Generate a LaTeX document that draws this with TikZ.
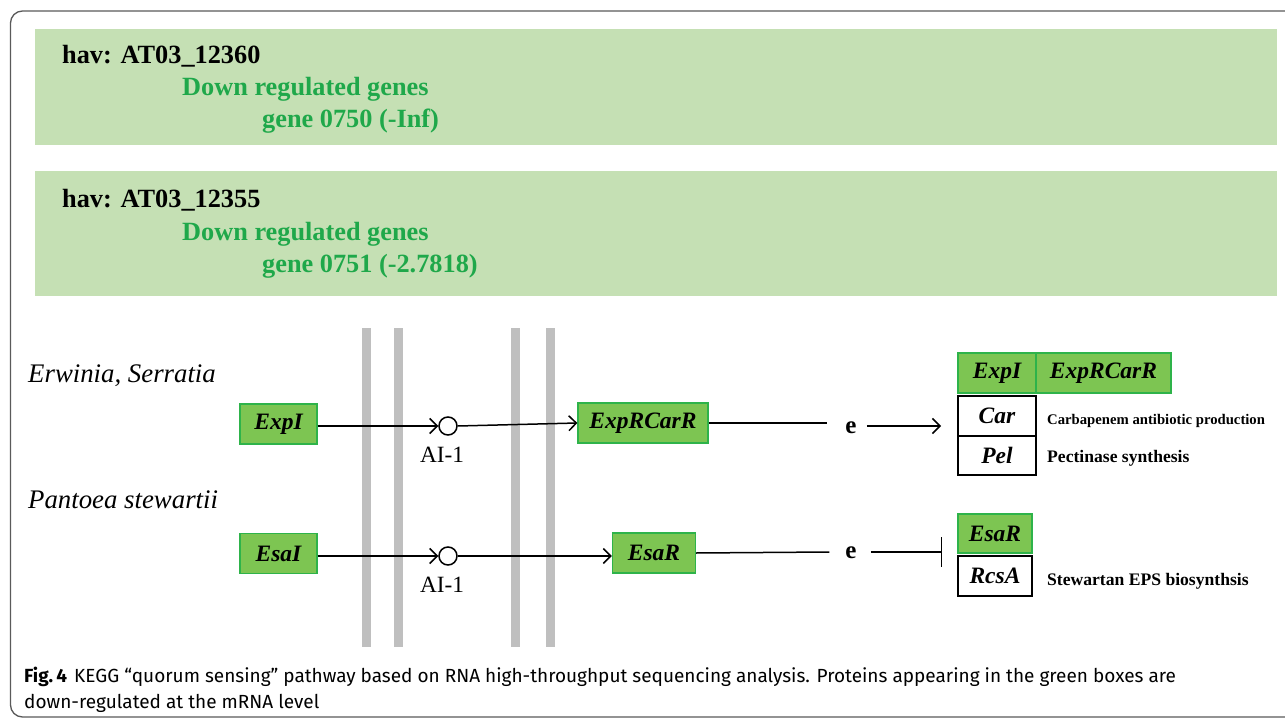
\documentclass[tikz,border=0pt]{standalone}
\usepackage{fontspec}
\setmainfont{Liberation Serif}
\newfontfamily\capfont{Fira Sans}
\usetikzlibrary{arrows.meta}

\definecolor{bannergreen}{HTML}{C5E0B4}
\definecolor{genegreen}{HTML}{1FA84A}
\definecolor{boxfill}{HTML}{7DC552}
\definecolor{boxline}{HTML}{2EB34A}
\definecolor{barcol}{HTML}{BFBFBF}
\definecolor{framecol}{HTML}{5A5A5A}

\tikzset{
  banner/.style={fill=bannergreen, draw=none},
  hav/.style={anchor=base west, inner sep=0pt, font=\fontsize{26.3}{30}\selectfont\bfseries},
  downtxt/.style={anchor=base west, inner sep=0pt, text=genegreen, font=\fontsize{26.3}{30}\selectfont\bfseries},
  species/.style={anchor=west, inner sep=0pt, font=\fontsize{26.8}{30}\selectfont\itshape},
  gbox/.style={draw=boxline, fill=boxfill, line width=1.3pt, inner sep=0pt, minimum height=40pt,
    font=\fontsize{23.5}{26}\selectfont\bfseries\itshape},
  wbox/.style={draw=black, fill=white, line width=1.3pt, inner sep=0pt, minimum height=40pt,
    font=\fontsize{23.5}{26}\selectfont\bfseries\itshape},
  sig/.style={circle, draw=black, line width=1.5pt, fill=white, minimum size=18pt, inner sep=0pt},
  sigtxt/.style={inner sep=0pt, font=\fontsize{23.3}{26}\selectfont},
  etxt/.style={inner sep=0pt, font=\fontsize{25}{28}\selectfont\bfseries},
  note/.style={anchor=west, inner sep=0pt, font=\fontsize{17.6}{20}\selectfont\bfseries},
  captxt/.style={anchor=base west, inner sep=0pt, font=\capfont\fontsize{19}{26}\selectfont},
  wire/.style={line width=1.5pt, draw=black},
  act/.style={wire, -{Straight Barb[length=7.5pt, width=15pt, line width=1.5pt]}},
  inhib/.style={wire, -{Bar[width=30pt, line width=1.5pt]}},
  membrane/.style={fill=barcol, draw=none},
}

\begin{document}
\begin{tikzpicture}[x=1pt, y=-1pt]
\useasboundingbox (0,0) rectangle (1285,719);
\fill[white] (0,0) rectangle (1285,719);

% outer frame
\draw[framecol, line width=1.3pt, rounded corners=12pt] (10.5,717) rectangle (1330,11);

% gene banners
\fill[banner] (35,29) rectangle (1277,145);
\fill[banner] (35,171) rectangle (1277,296);

\node[hav]     (h1) at (62,64)  {hav: AT03\_12360};
\node[downtxt] (d1) at (182,96) {Down regulated genes};
\node[downtxt] (g1) at (262,128) {gene 0750 (-Inf)};

\node[hav]     (h2) at (62,208)  {hav: AT03\_12355};
\node[downtxt] (d2) at (182,241) {Down regulated genes};
\node[downtxt] (g2) at (262,273) {gene 0751 (-2.7818)};

% membranes
\fill[membrane] (361.5,328) rectangle (370.5,647);
\fill[membrane] (393.5,328) rectangle (402.5,647);
\fill[membrane] (511,328) rectangle (520,647);
\fill[membrane] (546,328) rectangle (555,647);

% species
\node[species] (sp1) at (28,376) {Erwinia, Serratia};
\node[species] (sp2) at (28,500) {Pantoea stewartii};

% row 1
\node[gbox, minimum width=77pt] (expi) at (278.5,424) {ExpI};
\node[sig] (ai1) at (448,426) {};
\node[sigtxt] (ai1t) at (442,455) {AI-1};
\node[gbox, minimum width=130pt] (exprcarr) at (643,423) {ExpRCarR};
\node[etxt] (e1) at (851,428) {e};
\coordinate (t1) at (941,426);

\draw[act] (expi.east |- ai1) -- (ai1.west);
\draw[act] (ai1.east) -- (exprcarr.west);
\draw[wire] (exprcarr.east) -- ([xshift=-18pt]e1.west |- exprcarr.east);
\draw[act] ([xshift=10pt]e1.east |- t1) -- (t1);

% row 2
\node[gbox, minimum width=77pt] (esai) at (278.5,553.5) {EsaI};
\node[sig] (ai2) at (448,556) {};
\node[sigtxt] (ai2t) at (442,585) {AI-1};
\node[gbox, minimum width=83pt] (esar) at (654,553) {EsaR};
\node[etxt] (e2) at (851,553) {e};
\coordinate (t2) at (942,552);

\draw[act] (esai.east |- ai2) -- (ai2.west);
\draw[act] (ai2.east) -- (esar.west |- ai2);
\draw[wire] (esar.east) -- ([xshift=-16pt]e2.west |- t2);
\draw[inhib] ([xshift=14pt]e2.east |- t2) -- (t2);

% target genes
\node[gbox, minimum width=78pt] (texpi) at (997,373) {ExpI};
\node[gbox, minimum width=135pt] (texpr) at (1103.5,373) {ExpRCarR};
\node[wbox, minimum width=78pt] (car) at (997,416) {Car};
\node[wbox, minimum width=78pt, minimum height=39pt] (pel) at (997,455.5) {Pel};
\node[note, font=\fontsize{14.7}{17}\selectfont\bfseries] (carn) at (1047,421) {Carbapenem antibiotic production};
\node[note] (peln) at (1047,458) {Pectinase synthesis};

\node[gbox, minimum width=74pt, minimum height=39pt] (tesar) at (995,533.5) {EsaR};
\node[wbox, minimum width=74pt] (rcsa) at (995,576) {RcsA};
\node[note] (rcsan) at (1047,581) {Stewartan EPS biosynthsis};

% caption
\node[captxt] (cap1) at (24,682)
  {\textbf{Fig.\,4}\hspace{7pt}KEGG “quorum sensing” pathway based on RNA high-throughput sequencing analysis. Proteins appearing in the green boxes are};
\node[captxt] (cap2) at (24,708)
  {down-regulated at the mRNA level};
\end{tikzpicture}
\end{document}
